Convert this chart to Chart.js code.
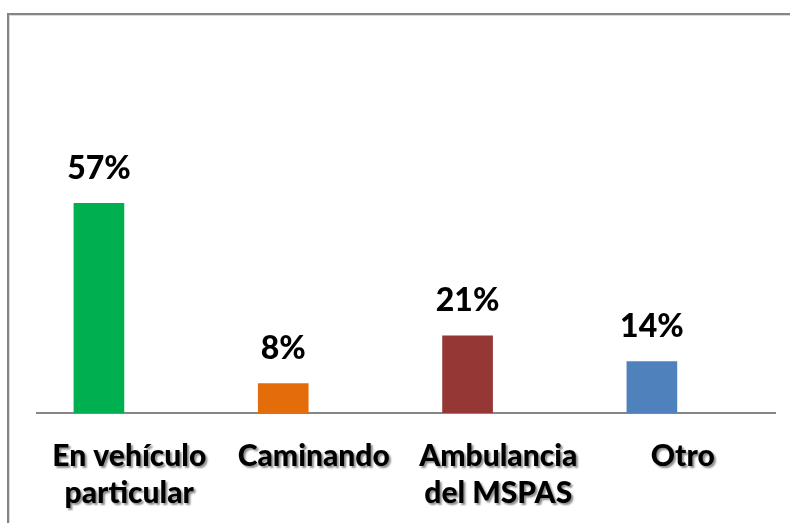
<!DOCTYPE html>
<html>
<head>
<meta charset="utf-8">
<script src="https://cdn.jsdelivr.net/npm/chart.js@4/dist/chart.umd.min.js"></script>
<style>
  html, body { margin: 0; padding: 0; background: #fff; overflow: hidden; }
  #frame {
    position: absolute; left: 7px; top: 13px; width: 800px; height: 520px;
    border-left: 2px solid #858585; border-top: 2px solid #858585;
    box-shadow: inset 1px 1px 0 #dcdcdc;
  }
  #wrap { position: absolute; left: 0; top: 0; width: 790px; height: 523px; }
</style>
</head>
<body>
<div id="frame"></div>
<div id="wrap"><canvas id="bar-chart"></canvas></div>
<script>
// categories and values (percent)
const categories = [["En vehículo", "particular"], "Caminando", ["Ambulancia", "del MSPAS"], "Otro"];
const values = [57, 8, 21, 14];
const barColors = ["#00B050", "#E46C0A", "#953735", "#4F81BD"];

// value labels above each bar, then shadow for the category labels drawn afterwards
const labelsPlugin = {
  id: "valueLabels",
  afterDatasetsDraw(chart) {
    const ctx = chart.ctx;
    const meta = chart.getDatasetMeta(0);
    ctx.save();
    ctx.font = "900 32px Lato";
    ctx.fillStyle = "#000";
    ctx.textAlign = "center";
    ctx.textBaseline = "bottom";
    meta.data.forEach(function (bar, i) {
      ctx.fillText(values[i] + "%", bar.x, bar.y - 19);
    });
    ctx.restore();
    ctx.save();
    ctx.shadowColor = "rgba(0,0,0,0.45)";
    ctx.shadowOffsetX = 2;
    ctx.shadowOffsetY = 2;
    ctx.shadowBlur = 2;
  },
  afterDraw(chart) {
    chart.ctx.restore();
  },
};

new Chart(document.getElementById("bar-chart"), {
  type: "bar",
  data: {
    labels: categories,
    datasets: [
      {
        data: values.map(function (v, i) { return { x: i, y: v }; }),
        backgroundColor: barColors,
        barThickness: 50,
        xAxisID: "xb",
      },
    ],
  },
  options: {
    responsive: true,
    maintainAspectRatio: false,
    animation: false,
    events: [],
    layout: { padding: { left: 37, right: 15, top: 45, bottom: 0 } },
    plugins: { legend: { display: false }, tooltip: { enabled: false } },
    scales: {
      x: {
        type: "category",
        grid: { display: false },
        border: { display: true, color: "#868686", width: 2 },
        ticks: {
          z: 1,
          color: "#000",
          padding: 16,
          maxRotation: 0,
          autoSkip: false,
          font: { family: "Lato", size: 30, weight: 900, lineHeight: 1.26 },
        },
        afterFit(scale) { scale.height = 110; },
      },
      xb: {
        type: "linear",
        display: false,
        offset: false,
        min: -0.336,
        max: 3.668,
      },
      y: {
        min: 0,
        max: 100,
        display: false,
      },
    },
  },
  plugins: [labelsPlugin],
});
</script>
</body>
</html>
